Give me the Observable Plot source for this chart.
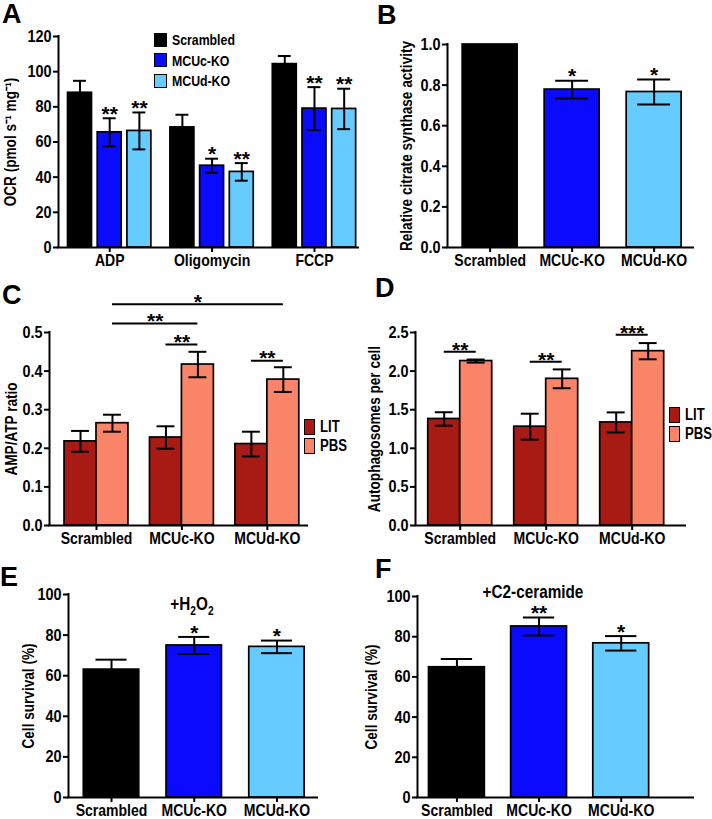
<!DOCTYPE html>
<html><head><meta charset="utf-8">
<script src="https://cdn.jsdelivr.net/npm/d3@7"></script>
<script src="https://cdn.jsdelivr.net/npm/@observablehq/plot@0.6"></script>
<style>
body{margin:0;background:#fff}
#fig{position:relative;width:712px;height:819px;overflow:hidden;font-family:'Liberation Sans',Arial,sans-serif;font-weight:bold;color:#000}
.panel{position:absolute}
.letter{position:absolute;font-family:'Liberation Sans',Arial,sans-serif;font-weight:bold;font-size:27px;line-height:1}
.leg{position:absolute;line-height:1;display:flex;align-items:center;gap:5px;white-space:nowrap}
.leg .lt{display:inline-block;transform:scaleX(0.82);transform-origin:left center}
.sw{border:1.5px solid #000;box-sizing:border-box;display:inline-block}
.ttl{position:absolute;font-size:18px;line-height:1;white-space:nowrap;transform:translateX(-50%) scaleX(0.85)}
</style></head><body><div id="fig"></div><script>
// ---------------- data ----------------
const strains = ["Scrambled", "MCUc-KO", "MCUd-KO"];
const strainColors = ["#000000", "#0a0aff", "#66ccff"];
const treatments = ["LIT", "PBS"];
const treatmentColors = ["#a81a14", "#fa8468"];

// A: OCR
const ocrConditions = ["ADP", "Oligomycin", "FCCP"];
const ocrScrambled = [88, 68.3, 104.3];
const ocrScrambledSem = [6.8, 7.2, 4.6];
const ocrMCUc = [65.5, 46.5, 79];
const ocrMCUcSem = [8, 4, 12.2];
const ocrMCUd = [66.3, 43, 78.8];
const ocrMCUdSem = [10.5, 5, 11.5];
const ocrStarsScrambled = ["", "", ""];
const ocrStarsMCUc = ["**", "*", "**"];
const ocrStarsMCUd = ["**", "**", "**"];
const ocrTicks = [0, 20, 40, 60, 80, 100, 120];

// B: citrate synthase
const citrate = [1.0, 0.778, 0.766];
const citrateSem = [0, 0.044, 0.061];
const citrateStars = ["", "*", "*"];
const citrateTicks = [0, 0.2, 0.4, 0.6, 0.8, 1.0];

// C: AMP/ATP
const ampLIT = [0.218, 0.228, 0.211];
const ampLITSem = [0.027, 0.029, 0.032];
const ampPBS = [0.265, 0.417, 0.378];
const ampPBSSem = [0.022, 0.033, 0.032];
const ampTicks = [0, 0.1, 0.2, 0.3, 0.4, 0.5];
const ampSigStart = [[0, "PBS"], [0, "PBS"], [1, "LIT"], [2, "LIT"]];
const ampSigEnd = [[2, "PBS"], [1, "PBS"], [1, "PBS"], [2, "PBS"]];
const ampSigLevel = [0.573, 0.523, 0.469, 0.427];
const ampSigText = ["*", "**", "**", "**"];

// D: autophagosomes
const autoLIT = [1.38, 1.28, 1.335];
const autoLITSem = [0.087, 0.168, 0.13];
const autoPBS = [2.13, 1.9, 2.258];
const autoPBSSem = [0.02, 0.122, 0.105];
const autoTicks = [0, 0.5, 1.0, 1.5, 2.0, 2.5];
const autoSigStart = [[0, "LIT"], [1, "LIT"], [2, "LIT"]];
const autoSigEnd = [[0, "PBS"], [1, "PBS"], [2, "PBS"]];
const autoSigLevel = [2.25, 2.12, 2.47];
const autoSigText = ["**", "**", "***"];

// E/F: survival
const survivalH2O2 = [63, 74.9, 74.2];
const survivalH2O2Sem = [4.9, 4.2, 3.1];
const survivalH2O2Stars = ["", "*", "*"];
const survivalC2 = [64.8, 85.1, 76.7];
const survivalC2Sem = [4.1, 4.5, 3.6];
const survivalC2Stars = ["", "**", "*"];
const survivalTicks = [0, 20, 40, 60, 80, 100];

// ---------------- helpers ----------------
const fig = document.getElementById("fig");
const FONT = "'Liberation Sans',Arial,sans-serif";
const SQUEEZE = 0.85;

function condense(svg) {
  svg.querySelectorAll('g[aria-label$="tick label"] text, g[aria-label$="axis label"] text').forEach(t => {
    const L = t.getComputedTextLength();
    if (L > 0) {
      t.setAttribute("textLength", (L * SQUEEZE).toFixed(2));
      t.setAttribute("lengthAdjust", "spacingAndGlyphs");
    }
  });
}

function makePanel(cfg) {
  const [mt, mr, mb, ml] = cfg.margins;
  const [x0, x1] = cfg.xDomain;
  const [y0, y1] = cfg.yDomain;
  const errs = cfg.bars.filter(d => d.e > 0);
  const marks = [
    Plot.rect(cfg.bars, {x1: "x1", x2: "x2", y1: () => 0, y2: "y", fill: "fill", stroke: "#000", strokeWidth: 1.7}),
    Plot.ruleX(errs, {x: "xc", y1: d => d.y - d.e, y2: d => d.y + d.e, stroke: "#000", strokeWidth: 2}),
    Plot.ruleY(errs, {y: d => d.y + d.e, x1: d => d.xc - d.hw, x2: d => d.xc + d.hw, stroke: "#000", strokeWidth: 2}),
    Plot.ruleY(errs, {y: d => d.y - d.e, x1: d => d.xc - d.hw, x2: d => d.xc + d.hw, stroke: "#000", strokeWidth: 2}),
    Plot.text(cfg.bars.filter(d => d.star), {x: "xc", y: d => d.y + d.e, text: "star", fontSize: 21, lineAnchor: "middle", dy: -4}),
    Plot.ruleX([x0], {x: d => d, y1: () => y0, y2: () => y1, stroke: "#000", strokeWidth: 2, strokeLinecap: "square"}),
    Plot.ruleY([y0], {y: d => d, x1: () => x0, x2: () => x1, stroke: "#000", strokeWidth: 2, strokeLinecap: "square"}),
    Plot.axisY({ticks: cfg.yTicks, tickFormat: cfg.yFormat, tickSize: 5, tickPadding: 2, strokeWidth: 2, fontSize: 17, fontWeight: "bold", label: null}),
    Plot.axisY({ticks: [], label: cfg.yLabel, labelAnchor: "center", labelOffset: cfg.labelOffset, labelArrow: "none", fontSize: 16, fontWeight: "bold"}),
    Plot.axisX({ticks: cfg.xTicks, tickFormat: i => cfg.xNames[i], tickSize: 5, tickPadding: 2, strokeWidth: 2, fontSize: 16.5, fontWeight: "bold", label: null})
  ];
  if (cfg.sig) {
    marks.push(Plot.ruleY(cfg.sig, {y: "level", x1: "xa", x2: "xb", stroke: "#000", strokeWidth: 2}));
    marks.push(Plot.text(cfg.sig, {x: d => (d.xa + d.xb) / 2, y: "level", text: "text", fontSize: 21, lineAnchor: "middle", dy: -2}));
  }
  const svg = Plot.plot({
    width: cfg.width, height: cfg.height,
    marginTop: mt, marginRight: mr, marginBottom: mb, marginLeft: ml,
    x: {type: "linear", domain: cfg.xDomain},
    y: {type: "linear", domain: cfg.yDomain},
    color: {type: "identity"},
    style: {fontFamily: FONT, fontWeight: "bold", background: "transparent", color: "#000", overflow: "visible"},
    marks
  });
  const div = document.createElement("div");
  div.className = "panel";
  div.style.left = cfg.left + "px";
  div.style.top = cfg.top + "px";
  div.appendChild(svg);
  fig.appendChild(div);
  condense(svg);
}

function addLetter(t, x, y) {
  const d = document.createElement("div");
  d.className = "letter"; d.textContent = t;
  d.style.left = x + "px"; d.style.top = y + "px";
  fig.appendChild(d);
}
function addLegend(names, colors, x, y, sw, sh, gap, fs) {
  names.forEach((n, i) => {
    const d = document.createElement("div");
    d.className = "leg";
    d.style.left = x + "px"; d.style.top = (y + i * gap) + "px"; d.style.fontSize = fs + "px";
    const s = document.createElement("span");
    s.className = "sw"; s.style.width = sw + "px"; s.style.height = sh + "px"; s.style.background = colors[i];
    const t = document.createElement("span"); t.className = "lt"; t.textContent = n;
    d.appendChild(s); d.appendChild(t);
    fig.appendChild(d);
  });
}
function addTitle(html, cx, y) {
  const d = document.createElement("div");
  d.className = "ttl"; d.innerHTML = html;
  d.style.left = cx + "px"; d.style.top = y + "px";
  fig.appendChild(d);
}
const fmt1 = d => d.toFixed(1);
const fmt0 = d => String(d);

// ---------------- Panel A ----------------
{
  const means = [ocrScrambled, ocrMCUc, ocrMCUd];
  const sems = [ocrScrambledSem, ocrMCUcSem, ocrMCUdSem];
  const stars = [ocrStarsScrambled, ocrStarsMCUc, ocrStarsMCUd];
  const offs = [-0.29, 0, 0.29], w = 0.234;
  const bars = [];
  ocrConditions.forEach((c, i) => strains.forEach((s, j) => {
    const xc = i + offs[j];
    bars.push({x1: xc - w / 2, x2: xc + w / 2, xc, hw: w * 0.27, y: means[j][i], e: sems[j][i], star: stars[j][i], fill: strainColors[j]});
  }));
  makePanel({left: 0, top: 0, width: 360, height: 270, margins: [36, 2, 23, 58],
    xDomain: [-0.5, 2.43], yDomain: [0, 120], yTicks: ocrTicks, yFormat: fmt0,
    xTicks: [0, 1, 2], xNames: ocrConditions, yLabel: "OCR (pmol s\u207B\u00B9 mg\u207B\u00B9)", labelOffset: 54, bars});
  addLegend(strains, strainColors, 154, 32, 13, 14, 20.5, 15);
  addLetter("A", 2, 1);
}
// ---------------- Panel B ----------------
{
  const w = 0.67;
  const bars = strains.map((s, j) => ({x1: j - w / 2, x2: j + w / 2, xc: j, hw: w * 0.3, y: citrate[j], e: citrateSem[j], star: citrateStars[j], fill: strainColors[j]}));
  makePanel({left: 360, top: 0, width: 352, height: 270, margins: [44, 19, 23, 87],
    xDomain: [-0.52, 2.48], yDomain: [0, 1], yTicks: citrateTicks, yFormat: fmt1,
    xTicks: [0, 1, 2], xNames: strains, yLabel: "Relative citrate synthase activity", labelOffset: 47, bars});
  addLetter("B", 377, 2);
}
// ---------------- grouped helper ----------------
function grouped(lit, litSem, pbs, pbsSem, w) {
  const bars = [];
  strains.forEach((s, i) => {
    bars.push({x1: i - w, x2: i, xc: i - w / 2, hw: w * 0.28, y: lit[i], e: litSem[i], star: "", fill: treatmentColors[0]});
    bars.push({x1: i, x2: i + w, xc: i + w / 2, hw: w * 0.28, y: pbs[i], e: pbsSem[i], star: "", fill: treatmentColors[1]});
  });
  return bars;
}
const center = (g, t, w) => g + (t === "LIT" ? -w / 2 : w / 2);
// ---------------- Panel C ----------------
{
  const w = 0.374;
  const bars = grouped(ampLIT, ampLITSem, ampPBS, ampPBSSem, w);
  const sig = ampSigLevel.map((lv, k) => ({xa: center(ampSigStart[k][0], ampSigStart[k][1], w), xb: center(ampSigEnd[k][0], ampSigEnd[k][1], w), level: lv, text: ampSigText[k]}));
  makePanel({left: 0, top: 270, width: 360, height: 290, margins: [62, 53, 35, 49],
    xDomain: [-0.55, 2.47], yDomain: [0, 0.5], yTicks: ampTicks, yFormat: fmt1,
    xTicks: [0, 1, 2], xNames: strains, yLabel: "AMP/ATP ratio", labelOffset: 44, bars, sig});
  addLegend(treatments, treatmentColors, 304, 419, 11, 16, 19, 16);
  addLetter("C", 2, 282);
}
// ---------------- Panel D ----------------
{
  const w = 0.372;
  const bars = grouped(autoLIT, autoLITSem, autoPBS, autoPBSSem, w);
  const sig = autoSigLevel.map((lv, k) => ({xa: center(autoSigStart[k][0], autoSigStart[k][1], w), xb: center(autoSigEnd[k][0], autoSigEnd[k][1], w), level: lv, text: autoSigText[k]}));
  makePanel({left: 360, top: 270, width: 352, height: 290, margins: [62, 27, 35, 55],
    xDomain: [-0.52, 2.62], yDomain: [0, 2.5], yTicks: autoTicks, yFormat: fmt1,
    xTicks: [0, 1, 2], xNames: strains, yLabel: "Autophagosomes per cell", labelOffset: 47, bars, sig});
  addLegend(treatments, treatmentColors, 669, 407, 11, 16, 19, 16);
  addLetter("D", 375, 275);
}
// ---------------- Panel E ----------------
{
  const w = 0.67;
  const bars = strains.map((s, j) => ({x1: j - w / 2, x2: j + w / 2, xc: j, hw: w * 0.28, y: survivalH2O2[j], e: survivalH2O2Sem[j], star: survivalH2O2Stars[j], fill: strainColors[j]}));
  makePanel({left: 0, top: 560, width: 360, height: 259, margins: [34, 43, 22, 68],
    xDomain: [-0.52, 2.49], yDomain: [0, 100], yTicks: survivalTicks, yFormat: fmt0,
    xTicks: [0, 1, 2], xNames: strains, yLabel: "Cell survival (%)", labelOffset: 46, bars});
  addTitle("+H<sub style='font-size:12px'>2</sub>O<sub style='font-size:12px'>2</sub>", 192, 595);
  addLetter("E", 0, 564);
}
// ---------------- Panel F ----------------
{
  const w = 0.68;
  const bars = strains.map((s, j) => ({x1: j - w / 2, x2: j + w / 2, xc: j, hw: w * 0.28, y: survivalC2[j], e: survivalC2Sem[j], star: survivalC2Stars[j], fill: strainColors[j]}));
  makePanel({left: 360, top: 560, width: 352, height: 259, margins: [36, 19, 22, 57],
    xDomain: [-0.48, 2.88], yDomain: [0, 100], yTicks: survivalTicks, yFormat: fmt0,
    xTicks: [0, 1, 2], xNames: strains, yLabel: "Cell survival (%)", labelOffset: 52, bars});
  addTitle("+C2-ceramide", 533, 583);
  addLetter("F", 375, 556);
}
</script></body></html>
